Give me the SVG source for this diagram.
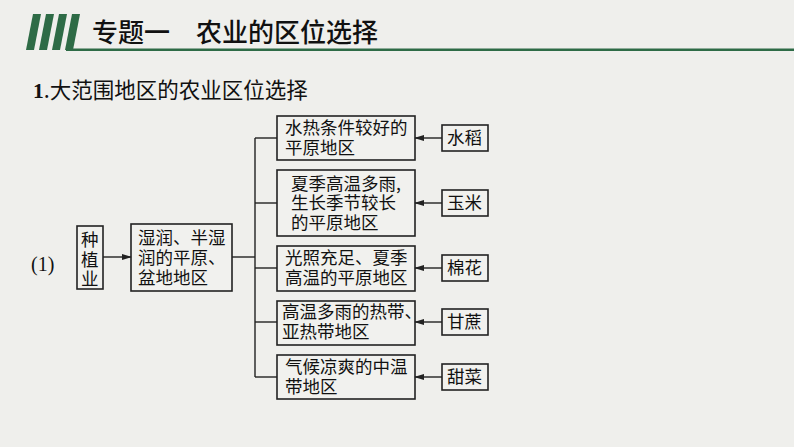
<svg xmlns="http://www.w3.org/2000/svg" width="794" height="447" viewBox="0 0 794 447">
<style>
.t{font-family:"Noto Sans CJK SC","Liberation Serif",serif;fill:#111}
.b{fill:#fff;fill-opacity:0.15;stroke:#222;stroke-width:1.6}
.c{stroke:#222;stroke-width:1.4;fill:none}
.g{fill:#2e6b46}
</style>
<defs><marker id="a" markerWidth="10" markerHeight="8" refX="9" refY="4" orient="auto" markerUnits="userSpaceOnUse"><path d="M0,1 L10,4 L0,7z" fill="#222"/></marker></defs>
<rect width="794" height="447" fill="#efefec"/>
<g id="header">
<polygon class="g" points="33,14 41,14 34,50 26,50"/>
<polygon class="g" points="46,14 54,14 47,50 39,50"/>
<polygon class="g" points="59,14 67,14 60,50 52,50"/>
<polygon class="g" points="72,14 80,14 73,50 65,50"/>
<rect class="g" x="66" y="48.5" width="728" height="2.5"/>
<text class="t" x="92" y="42" font-size="26" font-weight="500">专题一　农业的区位选择</text>
<text class="t" x="33" y="98" font-size="21.5"><tspan font-family="Liberation Serif" font-weight="bold">1</tspan>.大范围地区的农业区位选择</text>
<text x="31" y="271" font-size="20" font-family="Liberation Serif" fill="#111">(1)</text>
</g>
<g id="connectors">
<line class="c" x1="103" y1="257" x2="131" y2="257" marker-end="url(#a)"/>
<line class="c" x1="232" y1="257" x2="255" y2="257"/>
<line class="c" x1="255" y1="138" x2="255" y2="377"/>
<line class="c" x1="255" y1="138" x2="277" y2="138"/>
<line class="c" x1="255" y1="203" x2="277" y2="203"/>
<line class="c" x1="255" y1="268" x2="277" y2="268"/>
<line class="c" x1="255" y1="322" x2="277" y2="322"/>
<line class="c" x1="255" y1="377" x2="277" y2="377"/>
<line class="c" x1="442" y1="138" x2="415" y2="138" marker-end="url(#a)"/>
<line class="c" x1="442" y1="203" x2="415" y2="203" marker-end="url(#a)"/>
<line class="c" x1="442" y1="268" x2="415" y2="268" marker-end="url(#a)"/>
<line class="c" x1="442" y1="322" x2="415" y2="322" marker-end="url(#a)"/>
<line class="c" x1="442" y1="377" x2="415" y2="377" marker-end="url(#a)"/>
</g>
<g id="n-zhongzhi"><rect class="b" x="77" y="226" width="26" height="63"/>
<text class="t" font-size="17.5" x="81" y="246">种</text><text class="t" font-size="17.5" x="81" y="266">植</text><text class="t" font-size="17.5" x="81" y="285">业</text></g>
<g id="n-shirun"><rect class="b" x="131" y="224" width="101" height="67"/>
<text class="t" font-size="17.5"><tspan x="138" y="244">湿润、半湿</tspan><tspan x="138" y="264">润的平原、</tspan><tspan x="138" y="284">盆地地区</tspan></text></g>
<g id="n-r1"><rect class="b" x="277" y="116" width="138" height="44"/>
<text class="t" font-size="17.5"><tspan x="285" y="134">水热条件较好的</tspan><tspan x="285" y="154">平原地区</tspan></text></g>
<g id="n-r2"><rect class="b" x="277" y="170" width="138" height="66"/>
<text class="t" font-size="17.5"><tspan x="291" y="190">夏季高温多雨,</tspan><tspan x="291" y="209">生长季节较长</tspan><tspan x="291" y="229">的平原地区</tspan></text></g>
<g id="n-r3"><rect class="b" x="277" y="246" width="138" height="45"/>
<text class="t" font-size="17.5"><tspan x="285" y="264">光照充足、夏季</tspan><tspan x="285" y="284">高温的平原地区</tspan></text></g>
<g id="n-r4"><rect class="b" x="277" y="301" width="138" height="44"/>
<text class="t" font-size="17.5"><tspan x="282" y="318">高温多雨的热带、</tspan><tspan x="282" y="338">亚热带地区</tspan></text></g>
<g id="n-r5"><rect class="b" x="277" y="355" width="138" height="44"/>
<text class="t" font-size="17.5"><tspan x="285" y="373">气候凉爽的中温</tspan><tspan x="285" y="393">带地区</tspan></text></g>
<g id="c1"><rect class="b" x="442" y="125" width="46" height="26"/><text class="t" font-size="17.5" x="447" y="144">水稻</text></g>
<g id="c2"><rect class="b" x="442" y="190" width="46" height="26"/><text class="t" font-size="17.5" x="447" y="209">玉米</text></g>
<g id="c3"><rect class="b" x="442" y="255" width="46" height="26"/><text class="t" font-size="17.5" x="447" y="274">棉花</text></g>
<g id="c4"><rect class="b" x="442" y="309" width="46" height="26"/><text class="t" font-size="17.5" x="447" y="328">甘蔗</text></g>
<g id="c5"><rect class="b" x="442" y="364" width="46" height="26"/><text class="t" font-size="17.5" x="447" y="383">甜菜</text></g>
</svg>
